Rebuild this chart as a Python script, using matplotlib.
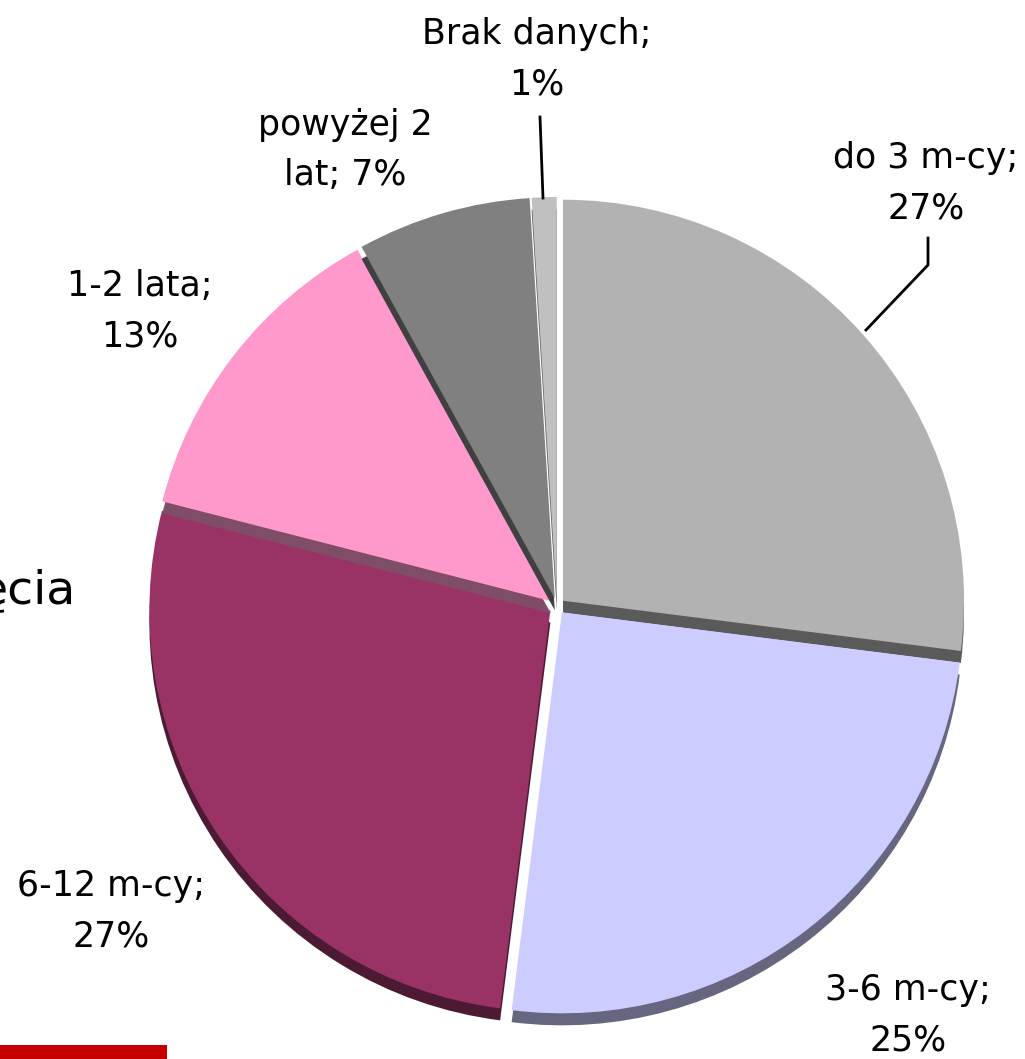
import matplotlib
matplotlib.use("Agg")
import matplotlib.pyplot as plt

W, H = 1025, 1059

categories = ["do 3 m-cy", "3-6 m-cy", "6-12 m-cy", "1-2 lata", "powyżej 2 lat", "Brak danych"]
values = [27, 25, 27, 13, 7, 1]
label_texts = ["do 3 m-cy;\n27%", "3-6 m-cy;\n25%", "6-12 m-cy;\n27%",
               "1-2 lata;\n13%", "powyżej 2\nlat; 7%", "Brak danych;\n1%"]
colors = ["#B2B2B2", "#CCCCFF", "#993366", "#FF99CC", "#808080", "#C0C0C0"]
shadow_colors = ["#5A5A5A", "#666680", "#4C1A33", "#804D66", "#404040", "#606060"]

# layout (pixel coordinates, y from top)
label_pos = [(926, 183), (908, 1015), (111, 911), (140, 311), (345, 150), (537, 59)]
cx, cy, R = 557, 606, 401
shadow_dy = 12
explode_px = 8

fig = plt.figure(figsize=(W / 100, H / 100), dpi=100)
ax = fig.add_axes([0, 0, 1, 1])

explode = [explode_px] * len(values)
sh_wedges, _ = ax.pie(values, colors=shadow_colors, startangle=90, counterclock=False,
                      explode=explode, radius=R, center=(cx, H - cy - shadow_dy),
                      wedgeprops=dict(linewidth=0), frame=True)
wedges, _ = ax.pie(values, colors=colors, startangle=90, counterclock=False,
                   explode=explode, radius=R, center=(cx, H - cy),
                   wedgeprops=dict(linewidth=0), frame=True)
for i, (s, w) in enumerate(zip(sh_wedges, wedges)):
    s.set_zorder(2 + 2 * i)
    w.set_zorder(3 + 2 * i)

ax.set_xlim(0, W)
ax.set_ylim(0, H)
ax.set_aspect("auto")
ax.axis("off")

for txt, (x, y) in zip(label_texts, label_pos):
    ax.text(x, H - y, txt, ha="center", va="center", fontsize=25,
            family="DejaVu Sans", linespacing=1.6, color="black", zorder=30)

# leader lines
ax.plot([540, 543], [H - 117, H - 198], color="black", lw=2, zorder=30)
ax.plot([928, 928, 866], [H - 238, H - 265, H - 330], color="black", lw=2, zorder=30)

# partial background text and red bar
ax.text(76, H - 603, "ęcia", ha="right", va="baseline", fontsize=34,
        family="DejaVu Sans", color="black", zorder=1)
ax.add_patch(plt.Rectangle((0, 0), 167, 14, color="#C60000", lw=0, zorder=1))

fig.savefig("out.png", dpi=100)
